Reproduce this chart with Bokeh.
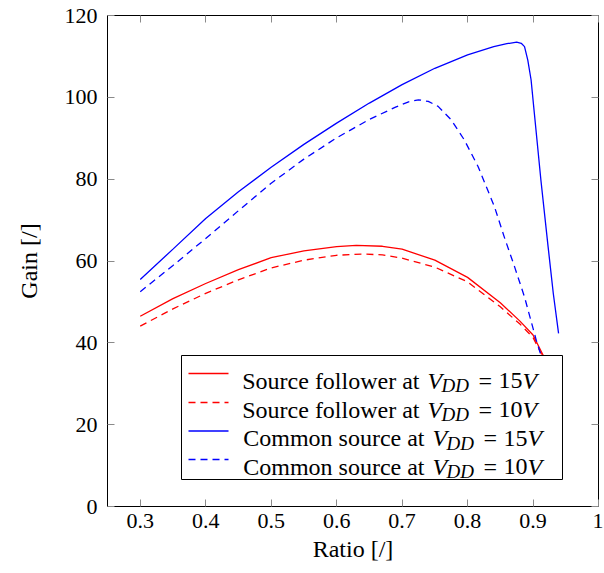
from bokeh.plotting import figure
from bokeh.models import (Range1d, LinearAxis, FixedTicker, Label, BoxAnnotation,
                          CustomLabelingPolicy, CustomJSTickFormatter)
from bokeh.embed import file_html
from bokeh.resources import INLINE

# ---------------- data ----------------
ratio_sf15 = [0.30, 0.35, 0.40, 0.45, 0.50, 0.55, 0.60, 0.63, 0.67, 0.70, 0.75, 0.80, 0.85, 0.88, 0.90, 0.92]
gain_sf15 = [46.5, 50.8, 54.5, 57.9, 60.8, 62.5, 63.5, 63.8, 63.6, 62.9, 60.2, 56.0, 49.8, 45.3, 41.9, 35.5]

ratio_sf10 = [0.30, 0.35, 0.40, 0.45, 0.50, 0.55, 0.60, 0.64, 0.67, 0.70, 0.75, 0.80, 0.85, 0.88, 0.90, 0.92]
gain_sf10 = [44.1, 48.3, 52.1, 55.4, 58.3, 60.2, 61.4, 61.7, 61.5, 60.7, 58.5, 54.9, 48.8, 44.6, 41.3, 35.0]

ratio_cs15 = [0.30, 0.35, 0.40, 0.45, 0.50, 0.55, 0.60, 0.65, 0.70, 0.75, 0.80, 0.84, 0.86, 0.875,
              0.882, 0.887, 0.892, 0.897, 0.902, 0.912, 0.923, 0.931, 0.939]
gain_cs15 = [55.5, 62.9, 70.4, 76.9, 82.9, 88.5, 93.7, 98.6, 103.1, 107.1, 110.4, 112.4, 113.1, 113.5,
             113.2, 112.4, 109.1, 104.3, 96.1, 79.8, 63.5, 52.0, 42.3]

ratio_cs10 = [0.30, 0.35, 0.40, 0.45, 0.50, 0.55, 0.60, 0.65, 0.69, 0.71, 0.725, 0.74, 0.755, 0.775,
              0.795, 0.816, 0.841, 0.856, 0.872, 0.887, 0.905, 0.92]
gain_cs10 = [52.5, 58.9, 65.5, 72.3, 79.0, 84.9, 90.1, 94.6, 97.6, 98.9, 99.4, 99.0, 97.8, 94.5,
             89.6, 83.1, 73.3, 65.9, 58.5, 51.2, 40.6, 33.0]

x_ticks = [0.3, 0.4, 0.5, 0.6, 0.7, 0.8, 0.9, 1.0]
x_tick_labels = ["0.3", "0.4", "0.5", "0.6", "0.7", "0.8", "0.9", "1"]
y_ticks = [0, 20, 40, 60, 80, 100, 120]

legend_prefix = ["Source follower at", "Source follower at", "Common source at", "Common source at"]
legend_vdd = ["15", "10", "15", "10"]
series_colors = ["#ff0000", "#ff0000", "#0000ff", "#0000ff"]
series_dash = ["solid", "7 5", "solid", "7 5"]

X0, X1, Y0, Y1 = 0.25, 1.0, 0, 120
FONT = "'Liberation Serif', 'DejaVu Serif', serif"
FS_TICK = "22px"
FS_AXIS = "24px"
FS_LEG = "24px"
FS_SUB = "19px"

# page-pixel -> data helpers (frame spans page px 107..598 x 15..506)
def dx(px):
    return X0 + (px - 107) / 491 * (X1 - X0)

def dy(py):
    return Y1 - (py - 15) / 491 * (Y1 - Y0)

p = figure(width=603, height=572, output_backend="svg", toolbar_location=None,
           x_range=Range1d(X0, X1), y_range=Range1d(Y0, Y1),
           min_border_left=107, min_border_right=5, min_border_top=15, min_border_bottom=66)
p.background_fill_color = "white"
p.border_fill_color = "white"
p.xgrid.grid_line_color = None
p.ygrid.grid_line_color = None
p.outline_line_color = "black"
p.outline_line_width = 1
p.outline_line_alpha = 1

def style_axis(ax, show_labels):
    ax.axis_line_color = None
    ax.major_tick_in = 7
    ax.major_tick_out = 0
    ax.major_tick_line_color = "#8a8a8a"
    ax.major_tick_line_width = 1
    ax.minor_tick_line_color = None
    ax.major_label_text_font = FONT
    ax.major_label_text_color = "black"
    ax.major_label_text_font_size = FS_TICK
    ax.axis_label_text_font = FONT
    ax.axis_label_text_font_style = "normal"
    ax.axis_label_text_font_size = FS_AXIS
    ax.axis_label_text_color = "black"
    if not show_labels:
        ax.formatter = CustomJSTickFormatter(code="return ''")
        ax.major_label_policy = CustomLabelingPolicy(
            code="const r = indices.clone(); for (const i of indices) { r.set(i, false) } return r")
        ax.major_label_text_font_size = "1px"
        ax.major_label_standoff = 0

xax = p.xaxis[0]
yax = p.yaxis[0]
xax.ticker = FixedTicker(ticks=x_ticks)
xax.major_label_overrides = {t: lab for t, lab in zip(x_ticks, x_tick_labels)}
yax.ticker = FixedTicker(ticks=y_ticks)
style_axis(xax, True)
style_axis(yax, True)
xax.axis_label = "Ratio [/]"
yax.axis_label = "Gain [/]"
xax.major_label_standoff = 7
xax.axis_label_standoff = 5
yax.major_label_standoff = 10
yax.axis_label_standoff = 20

top_ax = LinearAxis(ticker=FixedTicker(ticks=x_ticks))
right_ax = LinearAxis(ticker=FixedTicker(ticks=y_ticks))
style_axis(top_ax, False)
style_axis(right_ax, False)
p.add_layout(top_ax, "above")
p.add_layout(right_ax, "right")

# ---------------- curves ----------------
series = [(ratio_sf15, gain_sf15), (ratio_sf10, gain_sf10), (ratio_cs15, gain_cs15), (ratio_cs10, gain_cs10)]
for (xs, ys), c, d in zip(series, series_colors, series_dash):
    p.line(xs, ys, line_color=c, line_width=1.3, line_dash=d)

# ---------------- legend (manual, to allow V_DD subscripts) ----------------
box = BoxAnnotation(left=dx(181), right=dx(562), top=dy(355), bottom=dy(479),
                    fill_color="white", fill_alpha=1.0, line_color="black", line_width=1, line_alpha=1)
p.add_layout(box)

row_py = [373, 402, 430.5, 459]
v_left_px = [427, 427, 432, 432]
for i in range(4):
    yc = row_py[i]
    vl = v_left_px[i]
    p.line([dx(188), dx(228)], [dy(yc), dy(yc)], line_color=series_colors[i], line_width=1.3,
           line_dash=series_dash[i], level="overlay")
    base = dy(yc + 7)
    sub = dy(yc + 12)
    parts = [
        (legend_prefix[i], vl - 8, base, FS_LEG, "normal", "right"),
        ("V", vl, base, FS_LEG, "italic", "left"),
        ("DD", vl + 14, sub, FS_SUB, "italic", "left"),
        ("=", vl + 51, base, FS_LEG, "normal", "left"),
        (legend_vdd[i], vl + 71, base, FS_LEG, "normal", "left"),
        ("V", vl + 95, base, FS_LEG, "italic", "left"),
    ]
    for txt, px, yy, fs, st, al in parts:
        p.add_layout(Label(x=dx(px), y=yy, text=txt, text_font=FONT, text_font_size=fs,
                           text_font_style=st, text_align=al, text_baseline="alphabetic",
                           text_color="black", level="overlay"))

open("out.html", "w").write(file_html(p, INLINE))
